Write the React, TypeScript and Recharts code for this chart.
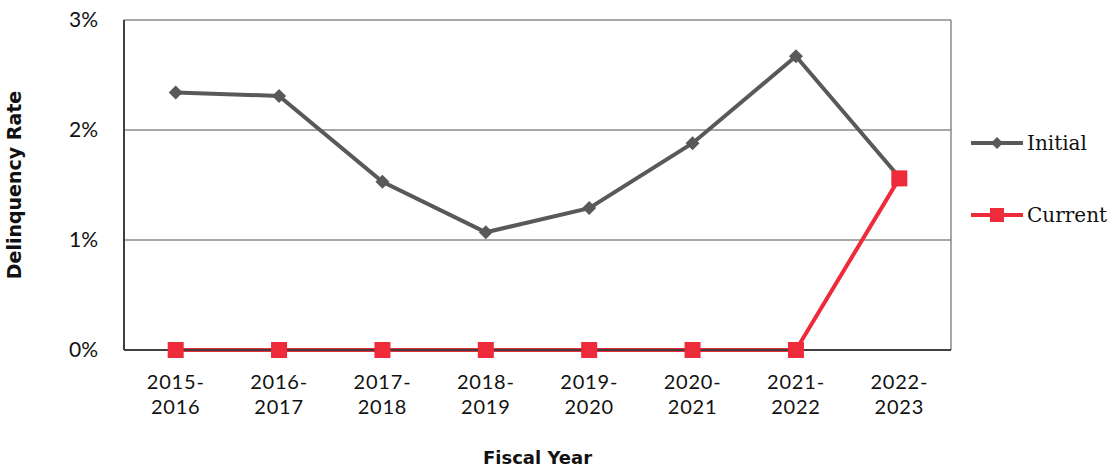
import { LineChart, Line, XAxis, YAxis, CartesianGrid } from 'recharts';

const fiscalYears = ['2015-2016', '2016-2017', '2017-2018', '2018-2019', '2019-2020', '2020-2021', '2021-2022', '2022-2023'];
const initialRates = [2.34, 2.31, 1.53, 1.07, 1.29, 1.88, 2.67, 1.57];
const currentRates = [0, 0, 0, 0, 0, 0, 0, 1.56];
const yTicks = [0, 1, 2, 3];

const GRAY = '#595959';
const RED = '#EE2B3B';
const TICK_FONT = 'Lato, "Open Sans", sans-serif';
const TITLE_FONT = '"DejaVu Sans", sans-serif';

const data = fiscalYears.map((year, i) => ({
  year,
  initial: initialRates[i],
  current: currentRates[i],
}));

const Diamond = (props: any) => {
  const { cx, cy } = props;
  if (cx == null || cy == null) return null;
  const r = 7;
  return <path d={`M${cx},${cy - r}L${cx + r},${cy}L${cx},${cy + r}L${cx - r},${cy}Z`} fill={GRAY} />;
};

const Square = (props: any) => {
  const { cx, cy } = props;
  if (cx == null || cy == null) return null;
  return <rect x={cx - 8} y={cy - 8} width={16} height={16} fill={RED} />;
};

// two-line year tick, e.g. "2015-" over "2016"
const YearTick = (props: any) => {
  const { x, y, payload } = props;
  const [a, b] = String(payload.value).split('-');
  return (
    <g>
      <text x={x} y={y + 31} textAnchor="middle" fontFamily={TICK_FONT} fontSize={20} letterSpacing={0.8} fill="#111">{a}-</text>
      <text x={x} y={y + 56} textAnchor="middle" fontFamily={TICK_FONT} fontSize={20} letterSpacing={0.8} fill="#111">{b}</text>
    </g>
  );
};

const LegendBox = () => (
  <svg width={150} height={120} style={{ position: 'absolute', left: 966, top: 126 }}>
    <line x1={5} y1={17} x2={57} y2={17} stroke={GRAY} strokeWidth={4} />
    <path d="M31,11L37,17L31,23L25,17Z" fill={GRAY} />
    <text x={61} y={24} fontFamily='"DejaVu Serif", serif' fontSize={20} fill="#111">Initial</text>
    <line x1={5} y1={89} x2={57} y2={89} stroke={RED} strokeWidth={4} />
    <rect x={24} y={82} width={14} height={14} fill={RED} />
    <text x={61} y={96} fontFamily='"DejaVu Serif", serif' fontSize={20} fill="#111">Current</text>
  </svg>
);

export default function App() {
  return (
    <div style={{ position: 'absolute', left: 0, top: 0, width: 1116, height: 470, background: '#fff' }}>
      <LineChart width={1116} height={470} data={data} margin={{ top: 20, right: 165, bottom: 0, left: 0 }}>
        <CartesianGrid
          stroke="#8a8a8a"
          strokeWidth={1.5}
          verticalCoordinatesGenerator={({ offset }: any) => [offset.left + offset.width]}
        />
        <XAxis
          dataKey="year"
          scale="band"
          tick={<YearTick />}
          tickLine={false}
          axisLine={{ stroke: '#404040', strokeWidth: 2 }}
          height={120}
          interval={0}
          label={{ value: 'Fiscal Year', position: 'insideBottom', offset: 6, fontFamily: TITLE_FONT, fontWeight: 700, fontSize: 18, fill: '#111' }}
        />
        <YAxis
          domain={[0, 3]}
          ticks={yTicks}
          tickFormatter={(v) => `${v}%`}
          tickLine={false}
          axisLine={{ stroke: '#404040', strokeWidth: 2 }}
          width={124}
          tick={{ fontFamily: TICK_FONT, fontSize: 21, fill: '#111' }}
          tickMargin={20}
          label={{ value: 'Delinquency Rate', angle: -90, position: 'insideLeft', offset: 14, style: { textAnchor: 'middle' }, fontFamily: TITLE_FONT, fontWeight: 700, fontSize: 19, fill: '#111' }}
        />
        <Line
          dataKey="initial"
          stroke={GRAY}
          strokeWidth={4}
          dot={<Diamond />}
          activeDot={false}
          isAnimationActive={false}
        />
        <Line
          dataKey="current"
          stroke={RED}
          strokeWidth={4}
          dot={<Square />}
          activeDot={false}
          isAnimationActive={false}
        />
      </LineChart>
      <LegendBox />
    </div>
  );
}
